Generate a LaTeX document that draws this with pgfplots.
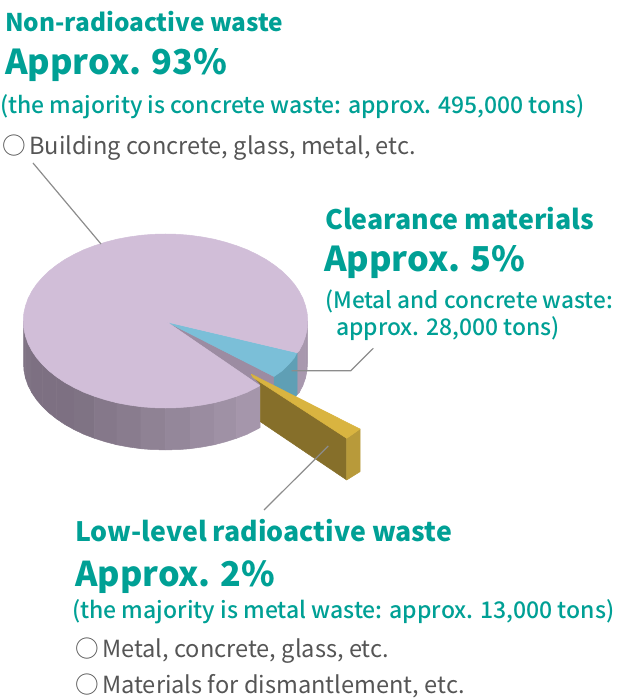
\documentclass[border=0pt]{standalone}
\usepackage{pgfplots}
\pgfplotsset{compat=1.18}
\usepackage{fontspec}
\setmainfont{Noto Sans CJK JP}
\newfontfamily\medfont{Noto Sans CJK JP Medium}
\definecolor{teal1}{HTML}{00A095}
\definecolor{txtgray}{HTML}{555555}
\definecolor{leader}{HTML}{8C8C8C}
\definecolor{lilac}{HTML}{D1BED8}
\definecolor{sky}{HTML}{7BBFD8}
\definecolor{skyside}{HTML}{5F9FB5}
\definecolor{cutwall}{HTML}{9C8CA2}
\definecolor{goldtop}{HTML}{D9B440}
\definecolor{goldface}{HTML}{866F2A}
\definecolor{goldend}{HTML}{B89A3A}
% side wall shades, dark to light
\definecolor{wa}{HTML}{7D7082}
\definecolor{wb}{HTML}{7F7384}
\definecolor{wc}{HTML}{85788A}
\definecolor{wd}{HTML}{897C8E}
\definecolor{we}{HTML}{8F8294}
\definecolor{wf}{HTML}{94879A}
\definecolor{wg}{HTML}{9A8CA0}
\definecolor{wh}{HTML}{9F91A5}
\definecolor{wi}{HTML}{A596AB}
\definecolor{wj}{HTML}{A898AE}
% one slice of the pie
\newcommand{\piece}[2]{\addplot[fill=#1,draw=#1,line width=0.5pt,line join=round] coordinates {#2} -- cycle;}
\newcommand{\head}[3]{\node[anchor=base west,inner sep=0pt,text=teal1,font=\fontsize{#3}{#3}\selectfont\bfseries] at (axis cs:#1) {#2};}
\newcommand{\note}[3]{\node[anchor=base west,inner sep=0pt,text=teal1,font=\medfont\fontsize{#3}{#3}\selectfont] at (axis cs:#1) {#2};}
\newcommand{\entry}[2]{\node[anchor=base west,inner sep=0pt,text=txtgray,font=\fontsize{23.6}{23.6}\selectfont] at (axis cs:#1) {○\hspace{3.5pt}#2};}
\begin{document}
\begin{tikzpicture}
\begin{axis}[
    scale only axis,
    width=616pt,
    height=700pt,
    xmin=0, xmax=616,
    ymin=0, ymax=700,
    y dir=reverse,
    hide axis,
    clip=false,
]
% keeps the page at the full size
\addplot[draw=none] coordinates {(0,0) (616,700)};
% side wall, right of the cut
\piece{wi}{(307.5,321) (307.5,363) (307,370.6) (305.5,378.1) (305.5,336.1)}
\piece{wj}{(305.5,336.1) (305.5,378.1) (302.9,385.5) (299.1,392.8) (299.1,350.8)}
\piece{wj}{(299.1,350.8) (299.1,392.8) (297,394.7) (297,352.7)}
% side wall, front, left to right
\piece{wb}{(23.5,321) (23.5,363) (24,370.6) (25.5,378.1) (25.5,336.1)}
\piece{wb}{(25.5,336.1) (25.5,378.1) (28.1,385.5) (31.9,392.8) (31.9,350.8)}
\piece{wa}{(31.9,350.8) (31.9,392.8) (36.6,399.8) (42.4,406.5) (42.4,364.5)}
\piece{wa}{(42.4,364.5) (42.4,406.5) (49,412.9) (56.6,418.9) (56.6,376.9)}
\piece{wa}{(56.6,376.9) (56.6,418.9) (64.9,424.5) (74.1,429.6) (74.1,387.6)}
\piece{wb}{(74.1,387.6) (74.1,429.6) (83.9,434.3) (94.4,438.3) (94.4,396.3)}
\piece{wc}{(94.4,396.3) (94.4,438.3) (105.4,441.8) (116.9,444.8) (116.9,402.8)}
\piece{wd}{(116.9,402.8) (116.9,444.8) (128.7,447) (140.8,448.7) (140.8,406.7)}
\piece{we}{(140.8,406.7) (140.8,448.7) (153.1,449.7) (165.5,449.8) (165.5,408)}
\piece{wf}{(165.5,408) (165.5,449.8) (177.9,449.7) (190.2,448.7) (190.2,406.7)}
\piece{wg}{(190.2,406.7) (190.2,448.7) (202.3,447) (214.1,444.8) (214.1,402.8)}
\piece{wh}{(214.1,402.8) (214.1,444.8) (225.6,441.8) (236.6,438.3) (236.6,396.3)}
\piece{wi}{(236.6,396.3) (236.6,438.3) (247.1,434.3) (260,427.7) (260,385.7)}
% wall of the cut and the blue slice
\piece{cutwall}{(167,322) (274,376.5) (274,396) (260,386)}
\piece{skyside}{(297,352.7) (297,394.7) (288.6,406.5) (274,418.5) (274,376.5)}
\piece{sky}{(167,322) (297,352.7) (294.4,357.8) (288.6,364.5) (282,370.9) (274,376.5)}
% top of the big slice
\piece{lilac}{(167,322) (297,352.7) (299.1,350.8) (302.9,343.5) (305.5,336.1) (307.2,328.6) (307.7,321)
 (307.2,313.4) (305.5,305.9) (302.9,298.5) (299.1,291.2) (294.4,284.2) (288.6,277.5) (282,271.1)
 (274.4,265.1) (266.1,259.5) (256.9,254.4) (247.1,249.7) (236.6,245.7) (225.6,242.2) (214.1,239.2)
 (202.3,237) (190.2,235.3) (177.9,234.3) (165.5,234) (153.1,234.3) (140.8,235.3) (128.7,237)
 (116.9,239.2) (105.4,242.2) (94.4,245.7) (83.9,249.7) (74.1,254.4) (64.9,259.5) (56.6,265.1)
 (49,271.1) (42.4,277.5) (36.6,284.2) (31.9,291.2) (28.1,298.5) (25.5,305.9) (23.8,313.4) (23.3,321)
 (23.8,328.6) (25.5,336.1) (28.1,343.5) (31.9,350.8) (36.6,357.8) (42.4,364.5) (49,370.9) (56.6,376.9)
 (64.9,382.5) (74.1,387.6) (83.9,392.3) (94.4,396.3) (105.4,399.8) (116.9,402.8) (128.7,405)
 (140.8,406.7) (153.1,407.7) (165.5,408) (177.9,407.7) (190.2,406.7) (202.3,405) (214.1,402.8)
 (225.6,399.8) (236.6,396.3) (247.1,392.3) (260,385.7)}
% the gold slice, pulled out
\piece{goldface}{(251,374) (346.7,438.3) (346.7,480) (260.3,421.7) (260.3,384)}
\piece{goldend}{(346.7,438.3) (360,429) (360,471.7) (346.7,480)}
\piece{goldtop}{(251,374) (360,429) (346.7,438.3) (253,377.5)}
% leader lines
\addplot[leader,line width=1.2pt] coordinates {(33,163) (101,244)};
\addplot[leader,line width=1.2pt] coordinates {(291.7,370.7) (350.7,370.7) (373.3,348.3)};
\addplot[leader,line width=1.2pt] coordinates {(328.3,446) (264,510)};
% text
\head{5,32}{Non-radioactive waste}{24.4}
\head{5,75}{Approx. 93\%}{34.3}
\note{0,114}{(the majority is concrete waste: approx. 495,000 tons)}{22.9}
\entry{2,155}{Building concrete, glass, metal, etc.}
\head{325,230}{Clearance materials}{26.8}
\head{324,271}{Approx. 5\%}{34.3}
\note{325,308}{(Metal and concrete waste:}{22.6}
\note{336,335}{approx. 28,000 tons)}{22.9}
\head{75,541}{Low-level radioactive waste}{26.7}
\head{75,586}{Approx. 2\%}{34.1}
\note{72,618}{(the majority is metal waste: approx. 13,000 tons)}{23}
\entry{75,657}{Metal, concrete, glass, etc.}
\entry{75,693}{Materials for dismantlement, etc.}
\end{axis}
\end{tikzpicture}
\end{document}
